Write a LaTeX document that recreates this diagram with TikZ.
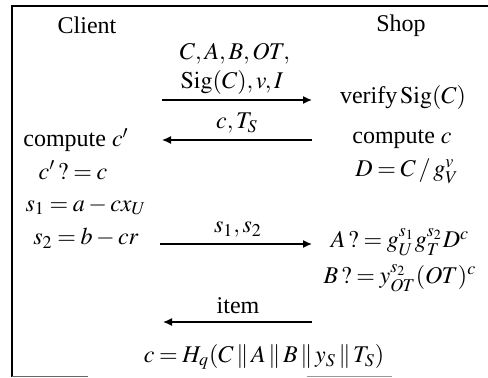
\documentclass[tikz,border=0pt]{standalone}
\usepackage{mathptmx}
\usepackage[no-math]{fontspec}
\setmainfont{Liberation Serif}
\usepackage{tikz}
\usetikzlibrary{arrows.meta}
\medmuskip=2.5mu plus 2mu minus 2mu
\thickmuskip=3.5mu plus 2mu

\begin{document}
\begin{tikzpicture}[x=0.5pt,y=-0.5pt,
    lbl/.style={inner sep=0pt,font=\fontsize{12}{14}\selectfont},
    msg/.style={line width=0.7pt,-{Latex[length=4.5pt,width=4pt]}}]
  \useasboundingbox (0,0) rectangle (488,378);
  \draw[line width=1pt] (12,377) -- (12,6) -- (488,6);
  \draw[line width=0.5pt,black!60] (12,377) -- (88,377);
  \draw[line width=0.5pt,black!40] (307,377) -- (392,377);
  \node[lbl] (client) at (87,25) {Client};
  \node[lbl] (shop) at (401,26) {Shop};
  \node[lbl] (cabot) at (235,54) {$C, A, B, OT,$};
  \node[lbl] (sigvi) at (232,83) {$\mathrm{Sig}(C), v, I$};
  \node[lbl] (verify) at (403,98) {verify$\,\mathrm{Sig}(C)$};
  \node[lbl] (cts) at (237,123) {$c, T_S$};
  \node[lbl] (computecp) at (76,140) {compute $c'$};
  \node[lbl] (computec) at (402,139) {compute $c$};
  \node[lbl] (checkc) at (73,170) {$c'\,?= c$};
  \node[lbl] (dval) at (407,171) {$D = C \,/\, g_V^v$};
  \node[lbl] (sone) at (86,206) {$s_1 = a - c x_U$};
  \node[lbl] (stwo) at (86,238) {$s_2 = b - cr$};
  \node[lbl] (ss) at (238,230) {$s_1, s_2$};
  \node[lbl] (acheck) at (400,242) {$A\,?= g_U^{s_1} g_T^{s_2} D^c$};
  \node[lbl] (bcheck) at (400,278) {$B\,?= y_{OT}^{s_2}(OT)^c$};
  \node[lbl] (item) at (238,306) {item};
  \node[lbl] (hash) at (264,357) {$c = H_q(C \,\|\, A \,\|\, B \,\|\, y_S \,\|\, T_S)$};
  \coordinate (l1) at (162,100);
  \coordinate (r1) at (312,100);
  \coordinate (l2) at (162,140);
  \coordinate (r2) at (312,140);
  \coordinate (l3) at (160,244);
  \coordinate (r3) at (312,244);
  \coordinate (l4) at (163,322);
  \coordinate (r4) at (312,322);
  \draw[msg] (l1) -- (r1);
  \draw[msg] (r2) -- (l2);
  \draw[msg] (l3) -- (r3);
  \draw[msg] (r4) -- (l4);
\end{tikzpicture}
\end{document}
